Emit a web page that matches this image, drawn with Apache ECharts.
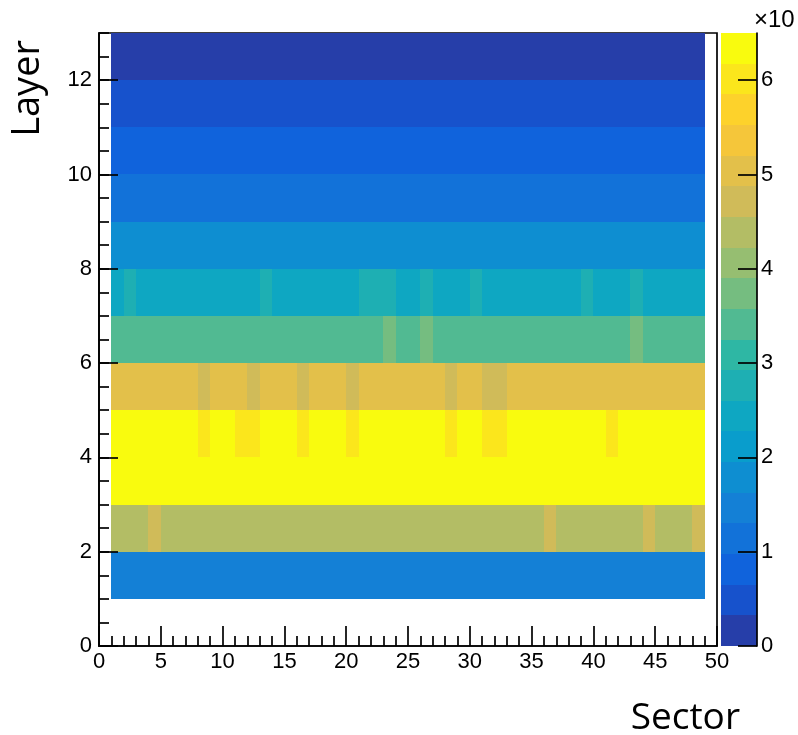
<!DOCTYPE html>
<html>
<head>
<meta charset="utf-8">
<script src="https://cdn.jsdelivr.net/npm/echarts@6/dist/echarts.min.js"></script>
<style>
  html, body { margin: 0; padding: 0; background: #fff; }
  #chart { width: 798px; height: 735px; }
</style>
</head>
<body>
<div id="chart"></div>
<script>
// Sector bins (low edge of each unit-wide bin) and layer bins
const sectors = [1, 2, 3, 4, 5, 6, 7, 8, 9, 10, 11, 12, 13, 14, 15, 16, 17, 18, 19, 20,
                 21, 22, 23, 24, 25, 26, 27, 28, 29, 30, 31, 32, 33, 34, 35, 36, 37, 38, 39, 40,
                 41, 42, 43, 44, 45, 46, 47, 48];
const layers = [1, 2, 3, 4, 5, 6, 7, 8, 9, 10, 11, 12];

// Cell contents per layer, one value per sector (in units of the colour axis)
const layer1 = [1.45, 1.45, 1.45, 1.45, 1.45, 1.45, 1.45, 1.45, 1.45, 1.45, 1.45, 1.45, 1.45, 1.45, 1.45, 1.45,
                1.45, 1.45, 1.45, 1.45, 1.45, 1.45, 1.45, 1.45, 1.45, 1.45, 1.45, 1.45, 1.45, 1.45, 1.45, 1.45,
                1.45, 1.45, 1.45, 1.45, 1.45, 1.45, 1.45, 1.45, 1.45, 1.45, 1.45, 1.45, 1.45, 1.45, 1.45, 1.45];
const layer2 = [4.4, 4.4, 4.4, 4.7, 4.4, 4.4, 4.4, 4.4, 4.4, 4.4, 4.4, 4.4, 4.4, 4.4, 4.4, 4.4,
                4.4, 4.4, 4.4, 4.4, 4.4, 4.4, 4.4, 4.4, 4.4, 4.4, 4.4, 4.4, 4.4, 4.4, 4.4, 4.4,
                4.4, 4.4, 4.4, 4.7, 4.4, 4.4, 4.4, 4.4, 4.4, 4.4, 4.4, 4.7, 4.4, 4.4, 4.4, 4.7];
const layer3 = [6.4, 6.4, 6.4, 6.4, 6.4, 6.4, 6.4, 6.4, 6.4, 6.4, 6.4, 6.4, 6.4, 6.4, 6.4, 6.4,
                6.4, 6.4, 6.4, 6.4, 6.4, 6.4, 6.4, 6.4, 6.4, 6.4, 6.4, 6.4, 6.4, 6.4, 6.4, 6.4,
                6.4, 6.4, 6.4, 6.4, 6.4, 6.4, 6.4, 6.4, 6.4, 6.4, 6.45, 6.4, 6.4, 6.4, 6.4, 6.4];
const layer4 = [6.3, 6.3, 6.3, 6.3, 6.3, 6.3, 6.3, 6.05, 6.3, 6.3, 6.05, 6.05, 6.3, 6.3, 6.3, 6.05,
                6.3, 6.3, 6.3, 6.05, 6.3, 6.3, 6.3, 6.3, 6.3, 6.3, 6.3, 6.05, 6.3, 6.3, 6.05, 6.05,
                6.3, 6.3, 6.3, 6.3, 6.3, 6.3, 6.3, 6.3, 6.05, 6.3, 6.3, 6.3, 6.3, 6.3, 6.3, 6.3];
const layer5 = [5.05, 5.05, 5.05, 5.05, 5.05, 5.05, 5.05, 4.75, 5.05, 5.05, 5.05, 4.75, 5.05, 5.05, 5.05, 4.75,
                5.05, 5.05, 5.05, 4.75, 5.05, 5.05, 5.05, 5.05, 5.05, 5.05, 5.05, 4.75, 5.05, 5.05, 4.75, 4.75,
                5.05, 5.05, 5.05, 5.05, 5.05, 5.05, 5.05, 5.05, 5.05, 5.05, 5.05, 5.05, 5.05, 5.05, 5.05, 5.05];
const layer6 = [3.4, 3.4, 3.4, 3.4, 3.4, 3.4, 3.4, 3.4, 3.4, 3.4, 3.4, 3.4, 3.4, 3.4, 3.4, 3.4,
                3.4, 3.4, 3.4, 3.4, 3.4, 3.4, 3.7, 3.4, 3.4, 3.7, 3.4, 3.4, 3.4, 3.4, 3.4, 3.4,
                3.4, 3.4, 3.4, 3.4, 3.4, 3.4, 3.4, 3.4, 3.4, 3.4, 3.7, 3.4, 3.4, 3.4, 3.4, 3.4];
const layer7 = [2.45, 2.75, 2.45, 2.45, 2.45, 2.45, 2.45, 2.45, 2.45, 2.45, 2.45, 2.45, 2.75, 2.45, 2.45, 2.45,
                2.45, 2.45, 2.45, 2.45, 2.75, 2.75, 2.75, 2.45, 2.45, 2.75, 2.45, 2.45, 2.45, 2.75, 2.45, 2.45,
                2.45, 2.45, 2.45, 2.45, 2.45, 2.45, 2.75, 2.45, 2.45, 2.45, 2.75, 2.45, 2.45, 2.45, 2.45, 2.45];
const layer8 = [1.8, 1.8, 1.8, 1.8, 1.8, 1.8, 1.8, 1.8, 1.8, 1.8, 1.8, 1.8, 1.8, 1.8, 1.8, 1.8,
                1.8, 1.8, 1.8, 1.8, 1.8, 1.8, 1.8, 1.8, 1.8, 1.8, 1.8, 1.8, 1.8, 1.8, 1.8, 1.8,
                1.8, 1.8, 1.8, 1.8, 1.8, 1.8, 1.8, 1.8, 1.8, 1.8, 1.8, 1.8, 1.8, 1.8, 1.8, 1.8];
const layer9 = [1.15, 1.15, 1.15, 1.15, 1.15, 1.15, 1.15, 1.15, 1.15, 1.15, 1.15, 1.15, 1.15, 1.15, 1.15, 1.15,
                1.15, 1.15, 1.15, 1.15, 1.15, 1.15, 1.15, 1.15, 1.15, 1.15, 1.15, 1.15, 1.15, 1.15, 1.15, 1.15,
                1.15, 1.15, 1.15, 1.15, 1.15, 1.15, 1.15, 1.15, 1.15, 1.15, 1.15, 1.15, 1.15, 1.15, 1.15, 1.15];
const layer10 = [0.8, 0.8, 0.8, 0.8, 0.8, 0.8, 0.8, 0.8, 0.8, 0.8, 0.8, 0.8, 0.8, 0.8, 0.8, 0.8,
                 0.8, 0.8, 0.8, 0.8, 0.8, 0.8, 0.8, 0.8, 0.8, 0.8, 0.8, 0.8, 0.8, 0.8, 0.8, 0.8,
                 0.8, 0.8, 0.8, 0.8, 0.8, 0.8, 0.8, 0.8, 0.8, 0.8, 0.8, 0.8, 0.8, 0.8, 0.8, 0.8];
const layer11 = [0.5, 0.5, 0.5, 0.5, 0.5, 0.5, 0.5, 0.5, 0.5, 0.5, 0.5, 0.5, 0.5, 0.5, 0.5, 0.5,
                 0.5, 0.5, 0.5, 0.5, 0.5, 0.5, 0.5, 0.5, 0.5, 0.5, 0.5, 0.5, 0.5, 0.5, 0.5, 0.5,
                 0.5, 0.5, 0.5, 0.5, 0.5, 0.5, 0.5, 0.5, 0.5, 0.5, 0.5, 0.5, 0.5, 0.5, 0.5, 0.5];
const layer12 = [0.2, 0.2, 0.2, 0.2, 0.2, 0.2, 0.2, 0.2, 0.2, 0.2, 0.2, 0.2, 0.2, 0.2, 0.2, 0.2,
                 0.2, 0.2, 0.2, 0.2, 0.2, 0.2, 0.2, 0.2, 0.2, 0.2, 0.2, 0.2, 0.2, 0.2, 0.2, 0.2,
                 0.2, 0.2, 0.2, 0.2, 0.2, 0.2, 0.2, 0.2, 0.2, 0.2, 0.2, 0.2, 0.2, 0.2, 0.2, 0.2];
const layerRows = [layer1, layer2, layer3, layer4, layer5, layer6, layer7, layer8, layer9, layer10, layer11, layer12];

// Axis tick labels
const xTicks = [0, 5, 10, 15, 20, 25, 30, 35, 40, 45, 50];
const yTicks = [0, 2, 4, 6, 8, 10, 12];
const zTicks = [0, 1, 2, 3, 4, 5, 6];

// Colour axis: 20 contour levels from 0 to zMax, "bird" palette
const zMin = 0;
const zMax = 6.5;
const palette = ['#263ea9', '#1752cc', '#1063dc', '#1272d9', '#1480d6', '#0e8ed1', '#099dcc', '#0ea7c2',
                 '#1eafb3', '#2eb7a4', '#51ba92', '#75bd80', '#96be71', '#b3bd65', '#d0bb59', '#e3c04a',
                 '#f5c63a', '#fdd22b', '#fbe61c', '#f9fb0e'];

const nLevels = palette.length;
const step = (zMax - zMin) / nLevels;
const pieces = palette.map((c, i) => {
  const p = { gte: zMin + i * step, color: c };
  if (i < nLevels - 1) p.lt = zMin + (i + 1) * step; else p.lte = zMax + 1e-9;
  return p;
});

// Cells: [sector low edge, layer low edge, content]
const cells = [];
layers.forEach((ly, j) => {
  sectors.forEach((sx, i) => {
    cells.push([sx, ly, layerRows[j][i]]);
  });
});

// Colour bar bands: [low, high, mid]
const bands = palette.map((c, i) => [zMin + i * step, zMin + (i + 1) * step, zMin + (i + 0.5) * step]);

const FONT = 'Liberation Sans';
const lineStyle = { color: '#000', width: 1.7 };

function renderCell(params, api) {
  const x = api.value(0), y = api.value(1);
  const a = api.coord([x, y + 1]);
  const b = api.coord([x + 1, y]);
  const x0 = Math.round(a[0]), y0 = Math.round(a[1]);
  const x1 = Math.round(b[0]), y1 = Math.round(b[1]);
  return {
    type: 'rect',
    shape: { x: x0, y: y0, width: x1 - x0, height: y1 - y0 },
    style: { fill: api.visual('color') }
  };
}

function renderBand(params, api) {
  const lo = api.value(0), hi = api.value(1);
  const a = api.coord([0, hi]);
  const b = api.coord([1, lo]);
  const x0 = Math.round(a[0]), y0 = Math.round(a[1]);
  const x1 = Math.round(b[0]), y1 = Math.round(b[1]);
  return {
    type: 'rect',
    shape: { x: x0, y: y0, width: x1 - x0, height: y1 - y0 },
    style: { fill: api.visual('color') }
  };
}

const chart = echarts.init(document.getElementById('chart'), null, { renderer: 'canvas' });

chart.setOption({
  backgroundColor: '#fff',
  animation: false,
  grid: [
    { left: 99, top: 33, width: 618, height: 613, show: true, borderColor: '#000', borderWidth: 1.7, backgroundColor: 'transparent' },
    { left: 721, top: 33, width: 36, height: 613 }
  ],
  visualMap: {
    type: 'piecewise',
    show: false,
    dimension: 2,
    seriesIndex: [0, 1],
    pieces: pieces
  },
  xAxis: [
    {
      type: 'value', gridIndex: 0, min: 0, max: 50, interval: 5, z: 5,
      axisLine: { show: true, onZero: false, lineStyle: lineStyle },
      axisTick: { show: true, inside: true, length: 20, lineStyle: lineStyle, customValues: xTicks },
      minorTick: { show: true, splitNumber: 5, length: 10, lineStyle: lineStyle },
      axisLabel: { fontFamily: FONT, fontSize: 22, color: '#000', margin: 5, customValues: xTicks },
      splitLine: { show: false },
      minorSplitLine: { show: false }
    },
    { type: 'value', gridIndex: 1, min: 0, max: 1, show: false }
  ],
  yAxis: [
    {
      type: 'value', gridIndex: 0, min: 0, max: 13, interval: 2, position: 'left', z: 5,
      axisLine: { show: true, onZero: false, lineStyle: lineStyle },
      axisTick: { show: true, inside: true, length: 19, lineStyle: lineStyle, customValues: yTicks },
      axisLabel: { fontFamily: FONT, fontSize: 22, color: '#000', margin: 7, padding: [4, 0, 0, 0], customValues: yTicks },
      splitLine: { show: false }
    },
    {
      type: 'value', gridIndex: 0, min: 0, max: 13, interval: 0.5, position: 'left', z: 5,
      axisLine: { show: false },
      axisTick: { show: true, inside: true, length: 10, lineStyle: lineStyle },
      axisLabel: { show: false },
      splitLine: { show: false }
    },
    {
      type: 'value', gridIndex: 1, min: zMin, max: zMax, interval: 1, position: 'right', z: 5,
      axisLine: { show: true, onZero: false, lineStyle: lineStyle },
      axisTick: { show: true, inside: true, length: 19, lineStyle: lineStyle, customValues: zTicks },
      axisLabel: { fontFamily: FONT, fontSize: 22, color: '#000', margin: 4, padding: [4, 0, 0, 0], customValues: zTicks },
      splitLine: { show: false }
    }
  ],
  series: [
    {
      type: 'custom', name: 'cells', xAxisIndex: 0, yAxisIndex: 0,
      renderItem: renderCell, data: cells, encode: { x: 0, y: 1 }, clip: true, z: 2
    },
    {
      type: 'custom', name: 'palette', xAxisIndex: 1, yAxisIndex: 2,
      renderItem: renderBand, data: bands, encode: { y: [0, 1] }, z: 2
    }
  ],
  graphic: [
    {
      type: 'text', x: 740, y: 718, z: 10,
      style: { text: 'Sector', fontFamily: 'Open Sans', fontSize: 37, fill: '#000', align: 'right', verticalAlign: 'middle', textAlign: 'right', textVerticalAlign: 'middle' }
    },
    {
      type: 'text', x: 28, y: 40, rotation: Math.PI / 2, z: 10,
      style: { text: 'Layer', fontFamily: 'Open Sans', fontSize: 38, fill: '#000', align: 'right', verticalAlign: 'middle', textAlign: 'right', textVerticalAlign: 'middle' }
    },
    {
      type: 'text', x: 754, y: 8, z: 10,
      style: { text: '×10', fontFamily: FONT, fontSize: 24, fill: '#000', align: 'left', verticalAlign: 'top', textAlign: 'left', textVerticalAlign: 'top' }
    }
  ]
});
</script>
</body>
</html>
